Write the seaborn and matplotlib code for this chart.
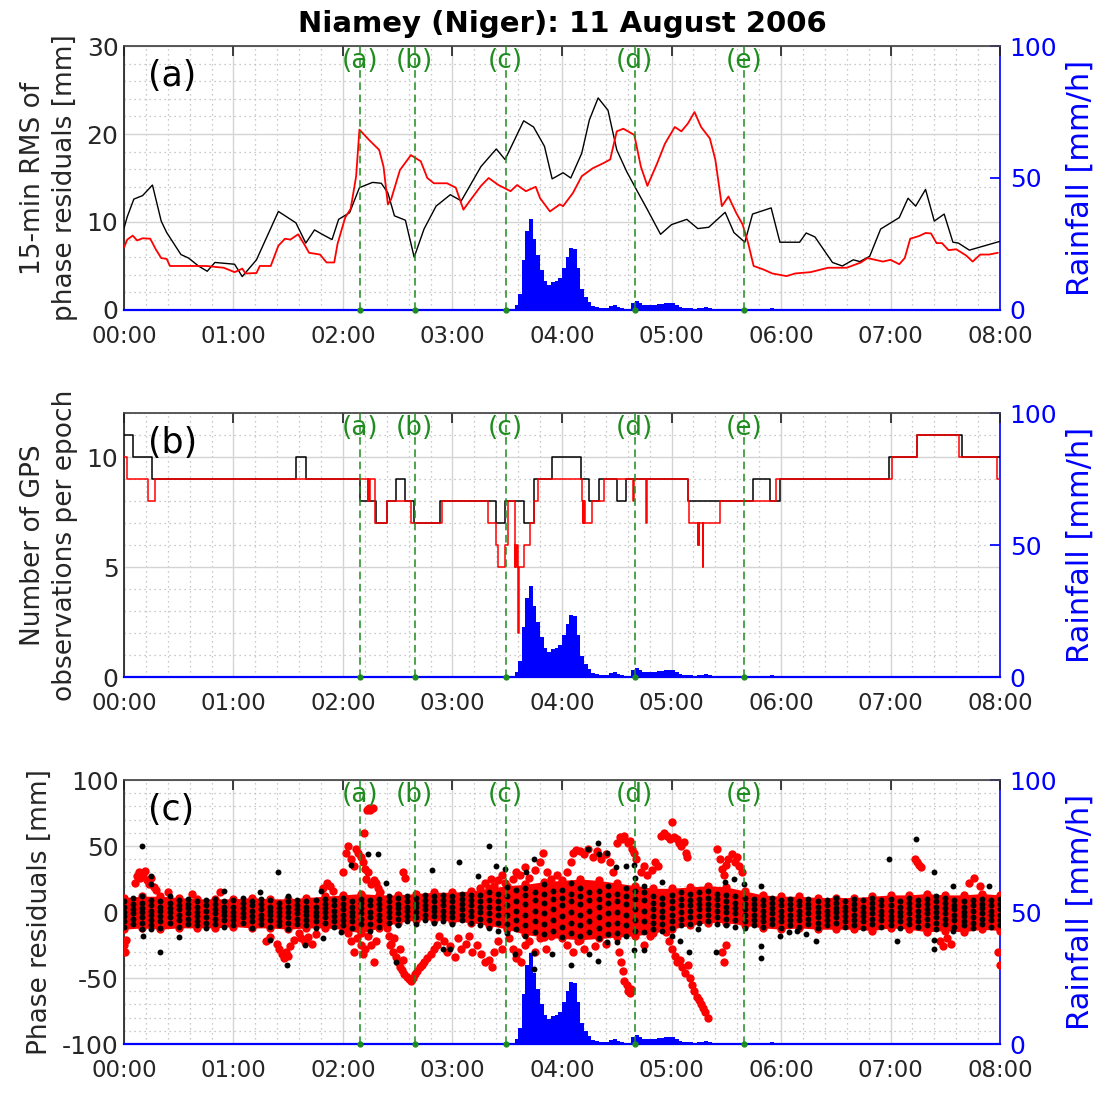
import numpy as np
import pandas as pd
import seaborn as sns
import matplotlib
matplotlib.use("Agg")
import matplotlib.pyplot as plt
import matplotlib.transforms as mtransforms
from matplotlib.ticker import MultipleLocator, FuncFormatter

# ---------------- data ----------------
# event markers (hours)
event_t = [2.155, 2.655, 3.485, 4.665, 5.66]
event_lab = ["(a)", "(b)", "(c)", "(d)", "(e)"]

# rainfall, 2-min bins starting 03:30 (mm/h)
rain_start_min = 210
rain_v = [0, 0.3, 2.0, 6.0, 19, 30, 34.5, 27, 21, 15,
          11, 9.5, 10.5, 11, 12, 16, 20, 23.5, 23, 16,
          8, 5, 3, 1.5, 1, 0.8, 0.6, 0.8, 1.5, 2,
          1.2, 0.6, 0.4, 0.5, 2.5, 3.5, 2.5, 2.0, 2.0, 1.8,
          2.0, 2.2, 2.3, 2.6, 2.8, 2.5, 1.8, 1.2, 0.9, 0.8,
          0.6, 0.5, 0.6, 0.9, 1.2, 0.8, 0.5, 0.4,
          0.4, 0.4, 0.3, 0.4, 0.5, 0.4, 0.3, 0.3, 0.4, 0.5,
          0.3, 0.3, 0.4, 0.5, 0.6, 0.4, 0.3, 0.3, 0.3, 0.4,
          0.3, 0.2, 0.3, 0.2, 0.2, 0.3, 0.2, 0.2, 0.3, 0.2, 0]

# panel (a): 15-min RMS
rms_black_t = [0.00, 0.03, 0.09, 0.17, 0.26, 0.34, 0.39, 0.52, 0.59, 0.68, 0.76, 0.83,
               1.01, 1.08, 1.21, 1.41, 1.57, 1.66, 1.74, 1.81, 1.90, 1.96, 2.06, 2.15,
               2.27, 2.35, 2.41, 2.47, 2.57, 2.65, 2.74, 2.85, 2.98, 3.08, 3.26, 3.40,
               3.48, 3.65, 3.74, 3.84, 3.91, 4.01, 4.08, 4.18, 4.25, 4.33, 4.42, 4.50,
               4.59, 4.67, 4.78, 4.90, 5.00, 5.14, 5.24, 5.34, 5.49, 5.57, 5.67, 5.74,
               5.91, 5.99, 6.17, 6.23, 6.31, 6.47, 6.56, 6.66, 6.72, 6.81, 6.91, 7.08,
               7.16, 7.23, 7.32, 7.40, 7.49, 7.57, 7.62, 7.72, 8.00]
rms_black_v = [9.3, 10.6, 12.6, 13.0, 14.2, 10.1, 8.8, 6.3, 5.9, 5.0, 4.4, 5.4,
               5.2, 3.8, 5.7, 11.2, 9.9, 7.6, 9.1, 8.6, 8.0, 10.3, 11.05, 13.9,
               14.5, 14.4, 13.3, 10.7, 10.2, 6.0, 9.2, 11.8, 13.1, 12.4, 16.3, 18.3,
               17.1, 21.5, 20.8, 18.6, 14.9, 15.6, 15.0, 17.8, 21.6, 24.1, 22.7, 18.2,
               15.75, 13.9, 11.4, 8.6, 9.7, 10.3, 9.25, 9.4, 11.1, 8.8, 7.7, 10.9,
               11.6, 7.7, 7.7, 8.75, 8.3, 5.4, 5.0, 5.7, 5.5, 6.1, 9.2, 10.5,
               12.7, 11.8, 13.7, 10.1, 10.9, 7.7, 7.6, 6.8, 7.8]

rms_red_t = [0.00, 0.03, 0.08, 0.12, 0.17, 0.24, 0.29, 0.34, 0.39, 0.42, 0.52, 0.75,
             0.91, 1.01, 1.08, 1.11, 1.21, 1.24, 1.34, 1.41, 1.47, 1.52, 1.59, 1.64,
             1.69, 1.79, 1.85, 1.92, 1.95, 1.98, 2.02, 2.07, 2.12, 2.15, 2.24, 2.33,
             2.37, 2.41, 2.44, 2.52, 2.62, 2.71, 2.77, 2.83, 2.95, 3.03, 3.10, 3.17,
             3.26, 3.33, 3.42, 3.53, 3.59, 3.67, 3.76, 3.80, 3.89, 3.98, 4.01, 4.10,
             4.18, 4.28, 4.38, 4.44, 4.50, 4.56, 4.66, 4.72, 4.78, 4.87, 4.94, 5.03,
             5.09, 5.15, 5.21, 5.27, 5.35, 5.40, 5.46, 5.52, 5.59, 5.65, 5.70, 5.75,
             5.84, 5.92, 6.05, 6.13, 6.27, 6.43, 6.60, 6.73, 6.79, 6.93, 7.00, 7.08,
             7.13, 7.18, 7.26, 7.32, 7.37, 7.42, 7.47, 7.53, 7.60, 7.69, 7.75, 7.82,
             7.90, 7.98]
rms_red_v = [7.1, 8.0, 8.45, 7.9, 8.15, 8.1, 6.9, 5.9, 5.8, 5.0, 5.0, 5.0,
             4.8, 4.3, 4.7, 4.15, 4.2, 5.0, 5.0, 7.3, 8.1, 8.0, 8.6, 7.6,
             6.5, 6.3, 5.4, 5.4, 7.5, 8.8, 10.5, 11.5, 15.2, 20.5, 19.3, 18.2,
             16.3, 12.0, 12.6, 15.9, 17.6, 16.9, 15.0, 14.4, 14.4, 13.9, 11.4, 12.6,
             14.1, 15.0, 14.2, 13.5, 14.2, 13.5, 14.0, 12.7, 11.2, 12.0, 11.8, 13.3,
             15.2, 16.1, 16.7, 17.1, 20.3, 20.6, 19.9, 16.3, 14.1, 16.7, 18.9, 20.8,
             20.3, 21.2, 22.5, 20.8, 19.5, 17.1, 11.8, 12.9, 11.05, 9.7, 7.6, 5.0,
             4.6, 4.15, 3.85, 4.15, 4.3, 4.8, 4.8, 5.4, 5.9, 5.5, 5.7, 5.2,
             5.9, 8.1, 8.4, 8.75, 8.7, 7.6, 7.6, 6.8, 6.9, 6.2, 5.5, 6.3,
             6.3, 6.5]

# panel (b): number of observations per epoch (step changes)
nobs_black_t = [0.0, 0.085, 0.257, 1.57, 1.66, 2.155, 2.30, 2.40, 2.48, 2.57, 2.65, 2.89,
                3.40, 3.48, 3.65, 3.74, 3.91, 4.17, 4.25, 4.34, 4.50, 4.58, 5.15, 5.74,
                5.90, 5.99, 6.99, 7.24, 7.65, 8.0]
nobs_black_v = [11, 10, 9, 10, 9, 8, 7, 8, 9, 8, 7, 8,
                7, 8, 7, 9, 10, 9, 8, 9, 8, 9, 8, 9,
                8, 9, 10, 11, 10, 10]
nobs_red_t = [0.0, 0.03, 0.22, 0.28, 2.225, 2.232, 2.24, 2.25, 2.29, 2.40, 2.62, 2.90,
              3.32, 3.40, 3.42, 3.48, 3.505, 3.57, 3.575, 3.58, 3.585, 3.595, 3.600, 3.605,
              3.65, 3.71, 3.74, 3.78, 4.18, 4.19, 4.195, 4.20, 4.205, 4.21, 4.27, 4.38,
              4.65, 4.655, 4.77, 4.775, 5.15, 5.16, 5.24, 5.245, 5.25, 5.255, 5.285, 5.29,
              5.44, 5.95, 7.01, 7.24, 7.63, 7.97, 8.0]
nobs_red_v = [10, 9, 8, 9, 8, 9, 8, 9, 7, 8, 7, 8,
              7, 6, 5, 6, 8, 5, 6, 5, 6, 5, 2, 5,
              6, 7, 8, 9, 8, 7, 8, 7, 8, 7, 8, 9,
              8, 9, 7, 9, 8, 7, 6, 7, 6, 7, 5, 7,
              8, 9, 10, 11, 10, 9, 9]

# panel (c): dense red band (envelope every 10 min)
band_upper = [11, 12, 12, 11, 10, 10, 10, 11, 10, 10, 11, 12, 13, 14, 13, 13, 14,
              15, 15, 16, 18, 20, 21, 23, 24, 25, 24, 22, 20, 18, 18, 19, 20, 19,
              16, 13, 12, 12, 11, 11, 11, 12, 13, 13, 14, 13, 13, 14, 13]
band_lower = [-13, -12, -13, -12, -12, -12, -11, -12, -12, -13, -12, -12, -13, -16,
              -12, -8, -6, -6, -7, -8, -10, -13, -17, -19, -20, -21, -20, -19, -18,
              -16, -13, -10, -8, -8, -10, -12, -13, -12, -13, -13, -13, -14, -12,
              -13, -15, -14, -15, -13, -14]

# black residuals: one column every 5 min
black_cols = [
    "-11 -7 -3 0 4 8", "-9 -5 -1 2 6 11", "-13 -8 -4 0 3 7 12", "-10 -6 -2 1 5 9",
    "-12 -7 -3 1 4 8", "-8 -4 0 3 7 12", "-11 -6 -2 2 5 9", "-9 -5 -1 3 6 10",
    "-10 -7 -3 0 4 8", "-12 -8 -4 1 5 9", "-9 -5 -1 2 6 10", "-11 -6 -2 1 4 8",
    "-10 -6 -3 0 4 9", "-8 -4 -1 3 7 11", "-12 -7 -3 1 5 8", "-9 -5 -2 2 6 10",
    "-11 -6 -2 1 4 9", "-10 -7 -3 0 3 7", "-13 -8 -4 0 4 8 12", "-9 -5 -1 2 5 9",
    "-10 -6 -2 1 4 8", "-12 -7 -3 0 4 9", "-8 -4 0 3 6 10", "-11 -7 -3 1 5 9",
    "-10 -6 -2 2 6 11", "-12 -7 -3 0 4 8", "-9 -5 -1 3 7 10", "-14 -9 -4 0 5 9",
    "-11 -6 -2 2 6 10", "-8 -4 0 4 8 12", "-10 -5 -1 3 6 11", "-7 -3 1 4 8 12",
    "-9 -4 0 4 7 11", "-6 -2 2 5 9 13", "-8 -3 1 4 8 12", "-7 -3 1 5 9 13",
    "-9 -4 0 4 8 12", "-6 -2 2 6 10 14", "-8 -3 1 5 9 13", "-10 -5 0 4 8 13",
    "-12 -6 -1 4 9 15", "-14 -8 -2 3 8 14", "-16 -9 -2 5 12 19", "-13 -6 1 8 17",
    "-18 -10 -2 6 13 18", "-15 -7 1 9 15", "-17 -9 -1 7 14 21", "-14 -6 2 10 16",
    "-19 -11 -3 5 11 17", "-16 -8 0 8 14 22", "-18 -10 -2 6 12 18", "-15 -7 1 9 15",
    "-20 -12 -4 4 10 16", "-17 -9 -1 7 13 20", "-16 -8 0 8 14", "-18 -10 -2 6 12 18",
    "-14 -6 2 10 16", "-15 -7 1 9 15", "-13 -8 -3 2 7 12", "-14 -9 -4 1 6 11",
    "-12 -7 -2 3 8 13", "-10 -5 0 5 10 15", "-9 -4 1 5 9 14", "-8 -3 2 6 10 15",
    "-7 -2 2 6 11 16", "-9 -4 1 5 10 14", "-10 -5 0 4 8 13", "-11 -6 -1 3 7 12",
    "-12 -7 -2 2 6 11", "-10 -6 -2 2 6 10", "-11 -7 -3 1 5 9", "-9 -5 -1 3 7 11",
    "-12 -7 -3 1 5 9", "-10 -6 -2 2 6 10", "-11 -6 -2 1 5 8", "-9 -5 -1 3 6 10",
    "-12 -8 -4 0 4 8", "-10 -6 -2 1 5 9", "-8 -4 0 3 7 11", "-11 -7 -3 1 4 8",
    "-10 -6 -2 2 6 10", "-12 -7 -3 0 4 9", "-9 -5 -1 3 7 11", "-11 -6 -2 1 5 9",
    "-10 -6 -3 1 5 10", "-12 -7 -3 0 4 8", "-9 -5 -1 3 7 11", "-11 -7 -3 1 5 9",
    "-10 -5 -1 2 6 10", "-13 -8 -4 0 4 8 12", "-9 -5 -1 3 7 11", "-11 -6 -2 2 5 9",
    "-10 -7 -3 0 4 8", "-12 -8 -4 1 5 9", "-9 -5 -1 3 6 10", "-11 -6 -2 1 5 9",
    "-10 -6 -2 2 6 10"]

black_out_t = [0.16, 0.25, 0.25, 0.33, 0.17, 0.25, 0.50, 0.91, 1.24, 1.41, 1.33, 1.49,
               1.65, 1.80, 1.82, 1.98, 2.07, 2.23, 2.32, 2.39, 2.48, 2.81, 2.91, 2.98,
               3.06, 3.23, 3.33, 3.40, 3.48, 3.57, 3.67, 3.74, 3.74, 3.74, 3.91, 4.08,
               4.24, 4.25, 4.33, 4.33, 4.34, 4.41, 4.41, 4.49, 4.50, 4.58, 4.66, 4.66,
               4.67, 4.75, 4.75, 4.91, 5.00, 5.08, 5.16, 5.24, 5.41, 5.49, 5.57, 5.66,
               5.82, 5.82, 5.82, 5.99, 6.07, 6.15, 6.23, 6.32, 6.99, 7.06, 7.23, 7.40,
               7.40, 7.40, 7.57, 7.57, 7.90]
black_out_v = [50, 27, 21, -30, -18, -13, -19, 16, 15, 30, -21, -40,
               -25, 16, -20, -15, 36, 44, 44, 22, -38, 32, -28, -28,
               38, 27, 50, 35, 33, -32, 30, 40, -31, -43, -32, -40,
               48, -32, 52, -37, 44, 45, -23, 34, -23, 35, 36, -29,
               26, 20, -29, 23, -18, -22, -30, -13, -30, 23, 25, 21,
               20, -26, -35, -18, -15, -14, -17, -22, 40, -22, 55, 30,
               -21, -28, 20, -14, 20]

red_out_t = [0.00, 0.01, 0.02, 0.10, 0.12, 0.14, 0.15, 0.17, 0.19, 0.21, 0.23, 0.25, 0.27, 0.29,
             0.40, 0.62, 0.88,
             1.30, 1.33, 1.40, 1.42, 1.44, 1.46, 1.48, 1.50, 1.52, 1.55,
             1.60, 1.62, 1.65, 1.68, 1.72, 1.75, 1.82, 1.85, 1.88, 1.91,
             2.00, 2.03, 2.05, 2.07, 2.10, 2.12, 2.14, 2.16, 2.18, 2.19, 2.20, 2.22, 2.24, 2.25, 2.27,
             2.21, 2.23, 2.26, 2.28, 2.30, 2.32, 2.34,
             2.05, 2.07, 2.10, 2.13, 2.16, 2.18, 2.20, 2.23, 2.26, 2.28, 2.30,
             2.40, 2.42, 2.44, 2.46, 2.48, 2.50, 2.52, 2.54, 2.56, 2.58, 2.60, 2.62, 2.64, 2.66,
             2.68, 2.70, 2.72, 2.74, 2.77, 2.80, 2.83, 2.86,
             2.43, 2.47, 2.52, 2.55, 2.55, 2.57,
             2.88, 2.92, 2.95, 2.98, 3.02, 3.05, 3.08, 3.12, 3.15, 3.18,
             3.22, 3.26, 3.30, 3.33, 3.36, 3.38, 3.42, 3.45,
             3.25, 3.30, 3.35, 3.38, 3.42, 3.45, 3.48,
             3.55, 3.58, 3.62, 3.66, 3.70, 3.75, 3.80, 3.83, 3.86, 3.90, 3.95,
             3.52, 3.55, 3.58, 3.60, 3.63, 3.66, 3.70, 3.75, 3.80, 3.85, 3.90,
             4.05, 4.08, 4.10, 4.13, 4.16, 4.20, 4.24, 4.28, 4.32, 4.36, 4.40, 4.44, 4.47,
             4.05, 4.10, 4.15, 4.20, 4.30, 4.40,
             4.50, 4.53, 4.55, 4.57, 4.60, 4.62, 4.64, 4.66, 4.68,
             4.52, 4.54, 4.56, 4.57, 4.59, 4.60, 4.62, 4.63,
             4.72, 4.75, 4.78, 4.82, 4.85, 4.88, 4.75, 4.80,
             4.90, 4.93, 4.96, 4.99, 5.00, 5.02, 5.05, 5.07, 5.09, 5.11, 5.13, 5.14,
             4.95, 4.98, 5.00, 5.03, 5.05, 5.08, 5.10, 5.12, 5.15, 5.17, 5.19, 5.21,
             5.23, 5.25, 5.27, 5.29, 5.31, 5.33,
             5.42, 5.44, 5.46, 5.48, 5.50, 5.52, 5.55, 5.58, 5.60, 5.62, 5.64,
             5.46, 5.48, 5.50,
             7.22, 7.24, 7.26, 7.28, 7.45, 7.48, 7.52, 7.55, 7.72, 7.76, 7.82, 7.98, 8.00]
red_out_v = [-25, -30, -21, 22, 27, 30, 26, 29, 31, 24, 21, 26, 19, 17,
             15, 14, 15,
             -22, -19, -24, -28, -32, -35, -30, -33, -26, -21,
             -16, -20, -23, -19, -24, -17, 18, 22, 20, 16,
             30, 45, 50, 40, 35, 48, 45, 42, 38, 60, 33, 77, 79, 77, 79,
             25, 30, 21, 24, 22, 18, 15,
             -16, -22, -30, -20, -25, -32, -28, -18, -25, -38, -22,
             -12, -18, -24, -30, -34, -38, -42, -44, -47, -49, -51, -52, -50, -47,
             -45, -42, -40, -38, -35, -32, -28, -25,
             -25, -20, -28, -36, 30, 26,
             -18, -22, -30, -26, -34, -20, -28, -24, -18, -30,
             -25, -32, -38, -36, -42, -30, -22, -28,
             18, 22, 25, 20, 24, 28, 22,
             25, 30, 28, 34, 26, 32, 38, 45, 30, 25, 28,
             -20, -28, -35, -30, -38, -25, -22, -30, -20, -28, -18,
             30, 38, 45, 47, 46, 44, 48, 42, 46, 40, 44, 38, 30,
             -25, -30, -22, -28, -26, -24,
             52, 57, 55, 58, 52, 54, 48, 45, 40,
             -30, -38, -45, -52, -55, -60, -61, -58,
             30, 35, 28, 32, 38, 35, -25, -18,
             58, 60, 58, 55, 68, 57, 55, 52, 50, 53, 45, 42,
             -15, -22, -28, -33, -38, -36, -42, -46, -40, -50, -55, -60,
             -64, -67, -70, -73, -76, -80,
             48, 40, 33, 28, 36, 40, 44, 38, 42, 35, 30,
             -30, -38, -25,
             40, 38, 36, 34, -22, -26, -20, -24, 22, 26, 20, -30, -40]

# ---------------- tables ----------------
rain = pd.DataFrame({"t": (rain_start_min + 2 * np.arange(len(rain_v))) / 60.0, "rain": rain_v})
band = pd.DataFrame({"t": np.arange(len(band_upper)) * 10 / 60.0,
                     "up": band_upper, "lo": band_lower})
bc_t, bc_v = [], []
for k, s in enumerate(black_cols):
    for v in s.split():
        bc_t.append(k * 5 / 60.0)
        bc_v.append(float(v))
black_res = pd.DataFrame({"t": bc_t + black_out_t, "v": bc_v + black_out_v})
red_res = pd.DataFrame({"t": red_out_t, "v": red_out_v})

# ---------------- style ----------------
sns.set_theme(style="white")
plt.rcParams["font.family"] = ["DejaVu Sans"]
plt.rcParams["axes.unicode_minus"] = False
GREEN = "#1e8c1e"
TXT = "#262626"

fig = plt.figure(figsize=(11.11, 10.93), dpi=100)
L, W, H = 0.1116, 0.7885, 0.2415
bottoms = [0.7164, 0.3806, 0.0448]


def make_panel(bottom, ylim, major, ylabel, letter):
    # back layer: grid only
    gax = fig.add_axes([L, bottom, W, H])
    gax.set_zorder(0)
    gax.set_xlim(0, 8)
    gax.set_ylim(*ylim)
    gax.xaxis.set_major_locator(MultipleLocator(1))
    gax.xaxis.set_minor_locator(MultipleLocator(0.2))
    gax.yaxis.set_major_locator(MultipleLocator(major))
    gax.yaxis.set_minor_locator(MultipleLocator(major / 5))
    gax.grid(which="major", color="#d4d4d4", linewidth=1.0)
    gax.grid(which="minor", color="#b8b8b8", linestyle=(0, (1, 3)), linewidth=0.9)
    gax.tick_params(which="both", length=0, labelbottom=False, labelleft=False)
    for s in gax.spines.values():
        s.set_visible(False)

    # middle layer: rainfall on its own (right) scale
    ax2 = fig.add_axes([L, bottom, W, H], sharex=gax)
    ax2.set_zorder(1)
    ax2.patch.set_visible(False)
    ax2.fill_between(rain["t"], 0, rain["rain"], step="post", color="blue", linewidth=0)
    ax2.set_ylim(0, 100)
    ax2.yaxis.tick_right()
    ax2.yaxis.set_label_position("right")
    ax2.set_yticks([0, 50, 100])
    ax2.tick_params(axis="y", colors="blue", direction="in", length=7, labelsize=18, pad=7)
    ax2.tick_params(axis="x", which="both", length=0, labelbottom=False)
    ax2.set_ylabel("Rainfall [mm/h]", color="blue", fontsize=22, labelpad=6)
    for s in ["left", "top", "bottom"]:
        ax2.spines[s].set_visible(False)
    ax2.spines["right"].set_color("blue")
    ax2.spines["right"].set_linewidth(1.2)

    # front layer: the GPS data
    ax = fig.add_axes([L, bottom, W, H], sharex=gax)
    ax.set_zorder(2)
    ax.patch.set_visible(False)
    ax.set_xlim(0, 8)
    ax.set_ylim(*ylim)
    ax.xaxis.set_major_locator(MultipleLocator(1))
    ax.xaxis.set_major_formatter(FuncFormatter(lambda x, p: f"{int(round(x)):02d}:00"))
    ax.yaxis.set_major_locator(MultipleLocator(major))
    ax.tick_params(which="major", direction="in", length=7, top=True, right=False,
                   colors=TXT)
    ax.tick_params(axis="x", labelsize=16.5, pad=11, labelbottom=True)
    ax.tick_params(axis="y", labelsize=18, pad=4)
    ax.tick_params(which="minor", length=0)
    ax.spines["right"].set_visible(False)
    ax.spines["top"].set_color("#444444")
    ax.spines["left"].set_color("#222222")
    ax.spines["bottom"].set_color("blue")
    ax.spines["bottom"].set_linewidth(1.6)
    ax.set_ylabel(ylabel, fontsize=19, color=TXT, linespacing=1.3, labelpad=6)
    ax.text(0.027, 0.885, letter, transform=ax.transAxes, fontsize=25,
            color="black", ha="left", va="center")

    trans = mtransforms.blended_transform_factory(ax.transData, ax.transAxes)
    for t, lab in zip(event_t, event_lab):
        ax.axvline(t, color=GREEN, linestyle=(0, (5, 3)), linewidth=1.1, zorder=6)
        ax.plot([t], [ylim[0]], marker="o", ms=3.5, color=GREEN, clip_on=False, zorder=6)
        ax.text(t, 0.945, lab, transform=trans, color=GREEN, fontsize=19,
                ha="center", va="center", zorder=7)
    return ax


# panel (a)
ax_a = make_panel(bottoms[0], (0, 30), 10, "15-min RMS of\nphase residuals [mm]", "(a)")
sns.lineplot(x=rms_black_t, y=rms_black_v, ax=ax_a, color="black", linewidth=1.0,
             estimator=None, sort=False, zorder=4)
sns.lineplot(x=rms_red_t, y=rms_red_v, ax=ax_a, color="red", linewidth=1.3,
             estimator=None, sort=False, zorder=5)
ax_a.set_title("Niamey (Niger): 11 August 2006", fontsize=21, fontweight="bold",
               color="black", pad=10)

# panel (b)
ax_b = make_panel(bottoms[1], (0, 12), 5, "Number of GPS\nobservations per epoch", "(b)")
sns.lineplot(x=nobs_black_t, y=nobs_black_v, ax=ax_b, color="black", linewidth=1.1,
             drawstyle="steps-post", estimator=None, sort=False, zorder=4)
sns.lineplot(x=nobs_red_t, y=nobs_red_v, ax=ax_b, color="red", linewidth=1.1,
             drawstyle="steps-post", estimator=None, sort=False, zorder=5)

# panel (c)
ax_c = make_panel(bottoms[2], (-100, 100), 50, "Phase residuals [mm]", "(c)")
ax_c.fill_between(band["t"], band["lo"], band["up"], color="red", linewidth=0, zorder=3)
edge = pd.DataFrame({"t": list(band["t"]) * 2, "v": list(band["up"]) + list(band["lo"])})
sns.scatterplot(data=edge, x="t", y="v", ax=ax_c, color="red", s=36, linewidth=0, zorder=3)
sns.scatterplot(data=red_res, x="t", y="v", ax=ax_c, color="red", s=36, linewidth=0, zorder=4)
sns.scatterplot(data=black_res, x="t", y="v", ax=ax_c, color="black", s=18, linewidth=0, zorder=5)

for ax in (ax_a, ax_b, ax_c):
    ax.set_xlabel("")
    ax.set_xlim(0, 8)

fig.savefig("out.png", dpi=100, facecolor="white")
